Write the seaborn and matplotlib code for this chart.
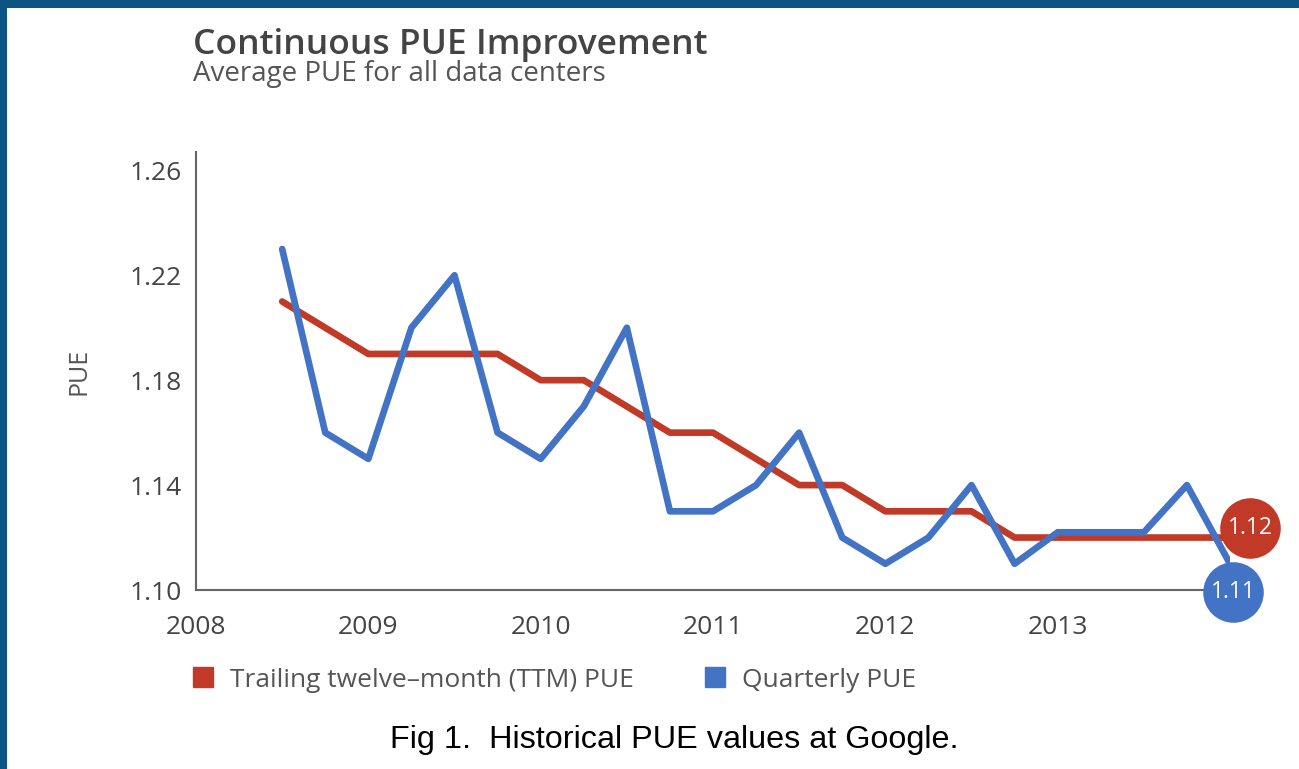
import numpy as np
import pandas as pd
import seaborn as sns
import matplotlib
matplotlib.use("Agg")
import matplotlib.pyplot as plt
from matplotlib.lines import Line2D
from matplotlib.patches import Rectangle
import matplotlib.transforms as mtransforms

# ---- data ----
quarters = [2008.5, 2008.75, 2009.0, 2009.25, 2009.5, 2009.75, 2010.0, 2010.25,
            2010.5, 2010.75, 2011.0, 2011.25, 2011.5, 2011.75, 2012.0, 2012.25,
            2012.5, 2012.75, 2013.0, 2013.25, 2013.5, 2013.75, 2014.0]
ttm_pue = [1.21, 1.20, 1.19, 1.19, 1.19, 1.19, 1.18, 1.18,
           1.17, 1.16, 1.16, 1.15, 1.14, 1.14, 1.13, 1.13,
           1.13, 1.12, 1.12, 1.12, 1.12, 1.12, 1.12]
quarterly_pue = [1.23, 1.16, 1.15, 1.20, 1.22, 1.16, 1.15, 1.17,
                 1.20, 1.13, 1.13, 1.14, 1.16, 1.12, 1.11, 1.12,
                 1.14, 1.11, 1.122, 1.122, 1.122, 1.14, 1.11]
series_names = ["Trailing twelve\u2013month (TTM) PUE", "Quarterly PUE"]
x_ticks = [2008, 2009, 2010, 2011, 2012, 2013]
y_ticks = [1.10, 1.14, 1.18, 1.22, 1.26]
end_labels = ["1.12", "1.11"]

RED = "#c13a28"
BLUE = "#4373c5"
TXT = "#444444"

sns.set_theme(style="white")
plt.rcParams["font.family"] = ["Open Sans", "DejaVu Sans"]

df = pd.DataFrame({
    "year": quarters * 2,
    "pue": ttm_pue + quarterly_pue,
    "series": [series_names[0]] * len(quarters) + [series_names[1]] * len(quarters),
})

fig = plt.figure(figsize=(12.99, 7.69), dpi=100)
fig.patch.set_facecolor("white")
ax = fig.add_axes([196 / 1299, 1 - 590 / 769, (1230 - 196) / 1299, (590 - 152) / 769])

sns.lineplot(data=df[df.series == series_names[0]], x="year", y="pue", color=RED,
             linewidth=4.8, ax=ax, legend=False, zorder=2)
sns.lineplot(data=df[df.series == series_names[1]], x="year", y="pue", color=BLUE,
             linewidth=4.8, ax=ax, legend=False, zorder=4)

ax.set_xlim(2008, 2014)
ax.set_ylim(1.10, 1.267)
ax.set_xticks(x_ticks)
ax.set_xticklabels([str(t) for t in x_ticks])
ax.set_yticks(y_ticks)
ax.set_yticklabels([f"{t:.2f}" for t in y_ticks])
ax.tick_params(axis="both", labelsize=19, colors="#666666", labelcolor=TXT,
               direction="out", length=7, width=1.5, pad=3)
ax.tick_params(axis="x", pad=11)
for s in ["top", "right"]:
    ax.spines[s].set_visible(False)
for s in ["left", "bottom"]:
    ax.spines[s].set_color("#666666")
    ax.spines[s].set_linewidth(1.5)
ax.set_xlabel("")
ax.set_ylabel("PUE", fontsize=18, color="#555555")
ax.yaxis.set_label_coords(-0.101, 0.5)

# end-point badges
red_tr = mtransforms.offset_copy(ax.transData, fig=fig, x=20, y=10, units="dots")
ax.scatter([quarters[-1]], [ttm_pue[-1]], s=1900, color=RED, transform=red_tr,
           zorder=3, clip_on=False, linewidths=0)
ax.text(quarters[-1], ttm_pue[-1], end_labels[0], transform=red_tr, color="white",
        fontsize=16.5, ha="center", va="center", zorder=3.5, clip_on=False)
blue_tr = mtransforms.offset_copy(ax.transData, fig=fig, x=3, y=-28, units="dots")
ax.scatter([quarters[-1]], [quarterly_pue[-1]], s=1900, color=BLUE, transform=blue_tr,
           zorder=5, clip_on=False, linewidths=0)
ax.text(quarters[-1], quarterly_pue[-1], end_labels[1], transform=blue_tr, color="white",
        fontsize=16.5, ha="center", va="center", zorder=6, clip_on=False)

# legend
handles = [Line2D([], [], marker="s", linestyle="", markersize=14, color=RED),
           Line2D([], [], marker="s", linestyle="", markersize=14, color=BLUE)]
leg = ax.legend(handles, series_names, loc="center left", bbox_to_anchor=(0.0, -0.206),
                ncol=2, frameon=False, fontsize=19, handlelength=0.55,
                handletextpad=0.75, columnspacing=2.8, borderpad=0, borderaxespad=0)
for t in leg.get_texts():
    t.set_color("#555555")

# titles
fig.text(193 / 1299, 1 - 54 / 769, "Continuous PUE Improvement", fontsize=25.5,
         fontweight="semibold", color=TXT, ha="left", va="baseline")
fig.text(193 / 1299, 1 - 81 / 769, "Average PUE for all data centers", fontsize=20,
         color="#555555", ha="left", va="baseline")

# caption
fig.text(674 / 1299, 1 - 740 / 769, "Fig 1.  Historical PUE values at Google.",
         fontsize=23.3, color="black", ha="center", va="center",
         family=["Liberation Sans", "DejaVu Sans"])

# border strips
fig.patches.append(Rectangle((0, 0), 7 / 1299, 1, transform=fig.transFigure,
                             facecolor="#0a5583", edgecolor="none", zorder=10))
fig.patches.append(Rectangle((0, 1 - 8 / 769), 1, 8 / 769, transform=fig.transFigure,
                             facecolor="#0a5583", edgecolor="none", zorder=10))

fig.savefig("out.png", dpi=100, facecolor="white")
